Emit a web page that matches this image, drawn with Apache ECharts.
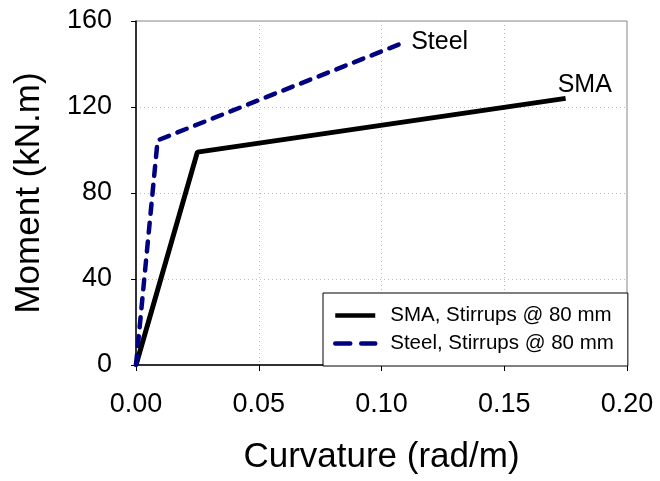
<!DOCTYPE html>
<html><head><meta charset="utf-8">
<script src="https://cdn.jsdelivr.net/npm/echarts@6/dist/echarts.min.js"></script>
<style>html,body{margin:0;padding:0;background:#fff}#c{width:660px;height:481px}</style>
</head><body><div id="c"></div>
<script>
const smaCurv = [0, 0.025, 0.175];
const smaMoment = [0, 99, 124];
const steelCurv = [0, 0.0088, 0.108];
const steelMoment = [0, 104.5, 149.5];
const xTicks = [0, 0.05, 0.10, 0.15, 0.20];
const yTicks = [0, 40, 80, 120, 160];
const seriesNames = ['SMA, Stirrups @ 80 mm', 'Steel, Stirrups @ 80 mm'];
const endLabels = ['SMA', 'Steel'];

const font = 'Liberation Sans, Arial, sans-serif';
function pts(xs, ys){ return xs.map((x,i)=>[x, ys[i]]); }

const chart = echarts.init(document.getElementById('c'), null, {renderer:'canvas'});
chart.setOption({
  animation:false,
  backgroundColor:'#fff',
  grid:{left:136, top:21, right:33, bottom:116, show:true, borderColor:'#888', borderWidth:1, backgroundColor:'transparent'},
  xAxis:{type:'value', min:xTicks[0], max:xTicks[xTicks.length-1], interval:0.05,
    name:'Curvature (rad/m)', nameLocation:'middle', nameGap:75,
    nameTextStyle:{fontSize:35, color:'#000', fontFamily:font},
    axisLine:{show:true, onZero:false, lineStyle:{color:'#000', width:1.5}},
    axisTick:{show:true, length:6, lineStyle:{color:'#000'}},
    axisLabel:{fontSize:27, color:'#000', fontFamily:font, margin:26, formatter:v=>v.toFixed(2)},
    splitLine:{show:true, lineStyle:{color:'#bbb', type:[1,3], width:1}}
  },
  yAxis:{type:'value', min:yTicks[0], max:yTicks[yTicks.length-1], interval:40,
    name:'Moment (kN.m)', nameLocation:'middle', nameGap:89,
    nameTextStyle:{fontSize:35, color:'#000', fontFamily:font},
    axisLine:{show:true, onZero:false, lineStyle:{color:'#000', width:1.5}},
    axisTick:{show:true, length:5, lineStyle:{color:'#000'}},
    axisLabel:{fontSize:27, color:'#000', fontFamily:font, margin:24},
    splitLine:{show:true, lineStyle:{color:'#bbb', type:[1,3], width:1}}
  },
  legend:{show:true, orient:'vertical', left:323, top:293,
    backgroundColor:'#fff', borderColor:'#000', borderWidth:1,
    padding:[12, 14, 12, 10], itemGap:7, itemWidth:40, itemHeight:20,
    itemStyle:{opacity:0},
    textStyle:{fontSize:20.5, color:'#000', fontFamily:font, padding:[0,0,0,10]},
    data:[
      {name:seriesNames[0], lineStyle:{width:4.5, color:'#000', type:'solid'}},
      {name:seriesNames[1], lineStyle:{width:4.5, color:'#000080', type:[15,11], cap:'round'}}
    ]
  },
  series:[
    {name:seriesNames[0], type:'line', data:pts(smaCurv, smaMoment), symbol:'none',
      lineStyle:{color:'#000', width:5}, itemStyle:{color:'#000'}, z:3,
      endLabel:{show:true, formatter:endLabels[0], fontSize:25, color:'#000', fontFamily:font, offset:[-16,-13]}},
    {name:seriesNames[1], type:'line', data:pts(steelCurv, steelMoment), symbol:'none',
      lineStyle:{color:'#000080', width:4.5, type:[10,9], cap:'round'}, itemStyle:{color:'#000080'}, z:4,
      endLabel:{show:true, formatter:endLabels[1], fontSize:25, color:'#000', fontFamily:font, offset:[2,-1]}}
  ]
});
</script></body></html>
